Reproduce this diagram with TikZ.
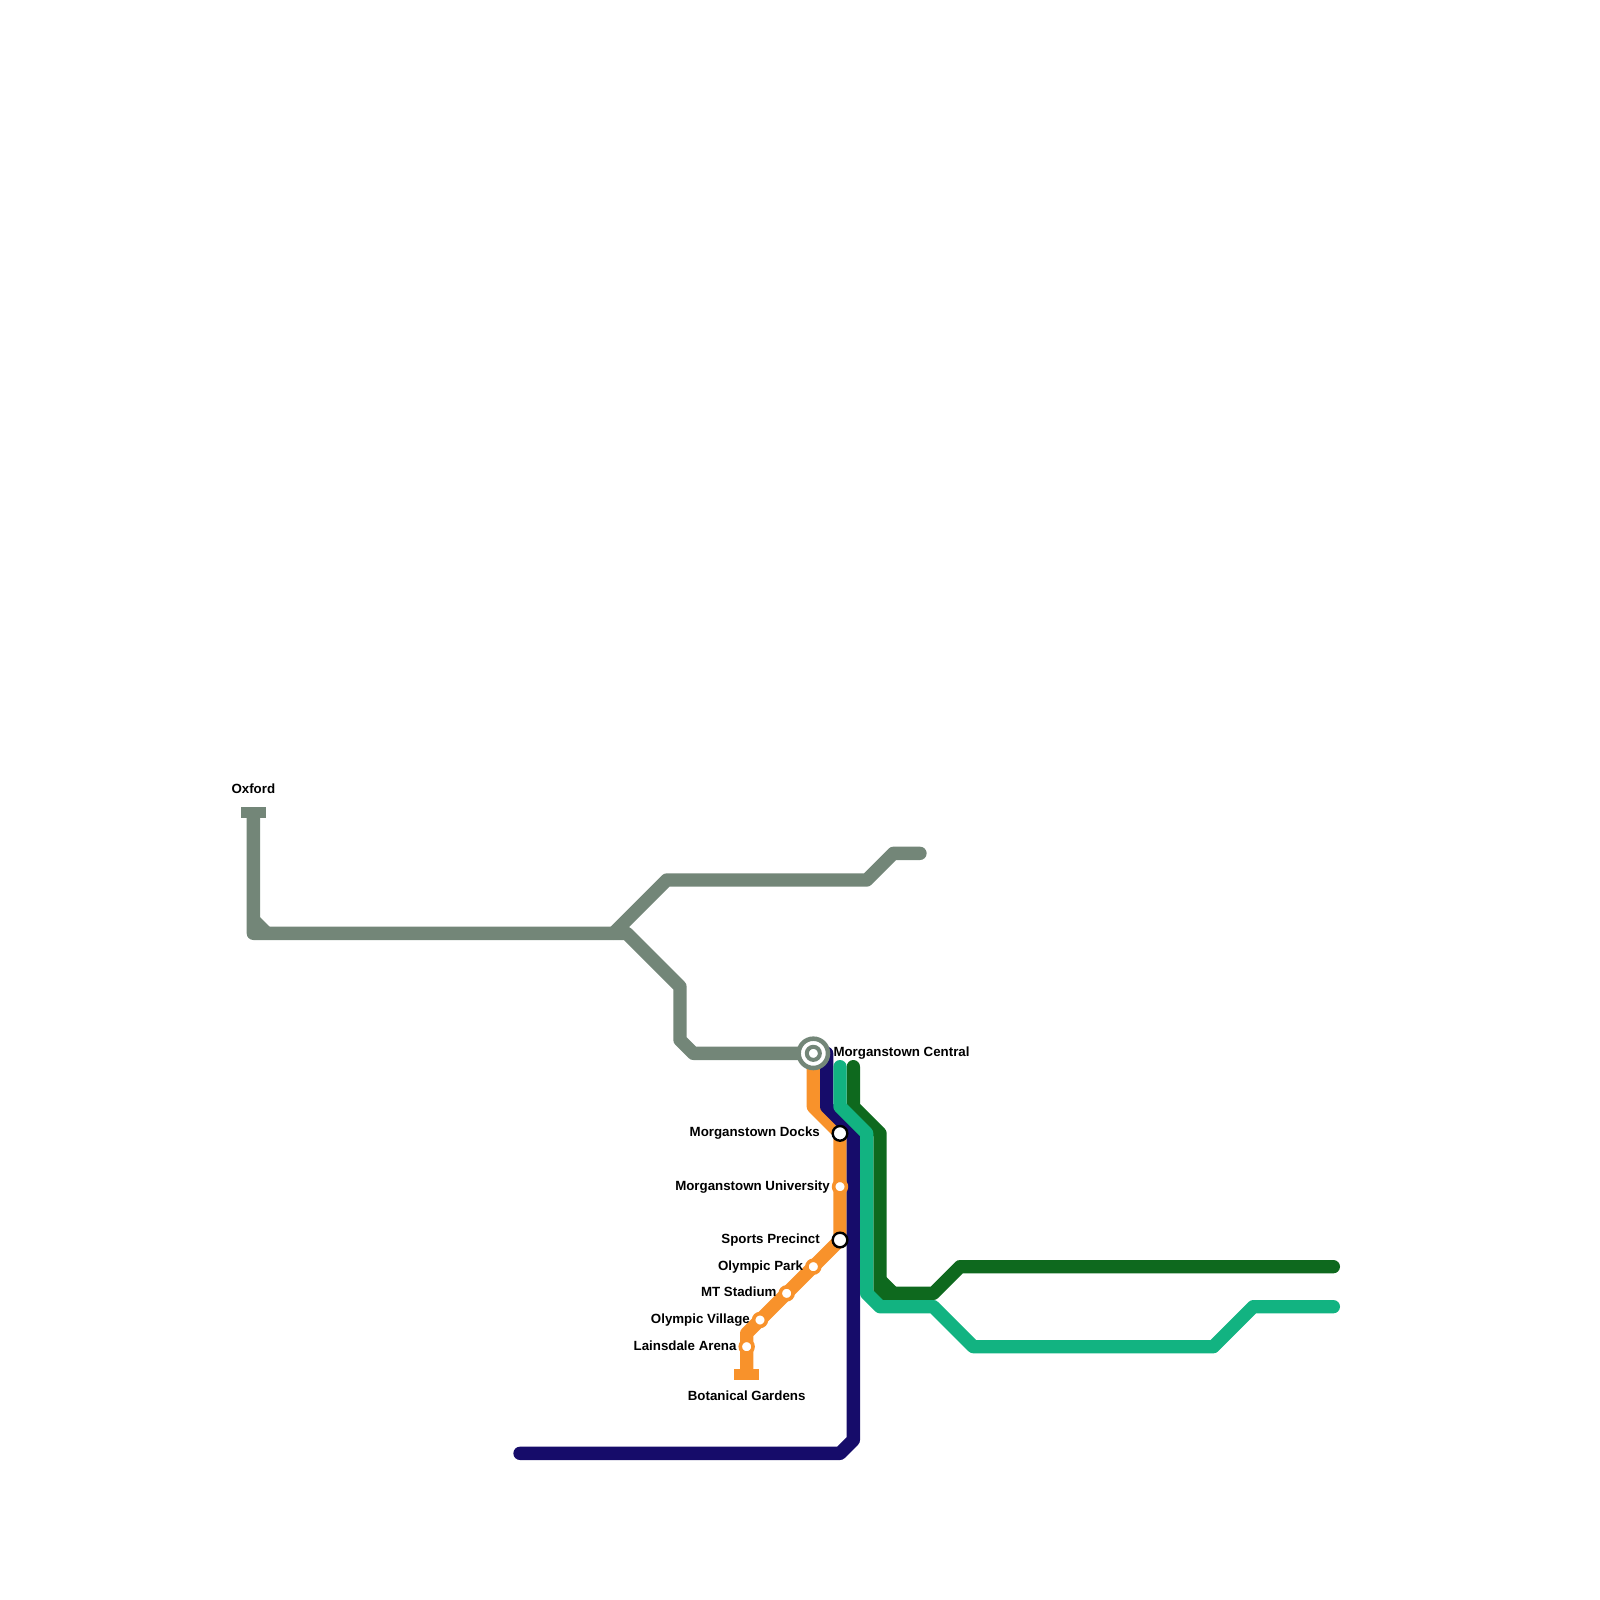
\documentclass[tikz,border=0pt]{standalone}
\usepackage{fontspec}
\setmainfont{Liberation Sans}
\usepackage{tikz}
\usetikzlibrary{positioning}
\definecolor{sagegrey}{HTML}{738678}
\definecolor{lineorange}{HTML}{F8922B}
\definecolor{linenavy}{HTML}{160C6A}
\definecolor{lineteal}{HTML}{12B381}
\definecolor{linegreen}{HTML}{0E691E}
\tikzset{
  route/.style={line width=5mm,line cap=round,line join=round},
  greyroute/.style={route,draw=sagegrey},
  orangeroute/.style={route,draw=lineorange},
  navyroute/.style={route,draw=linenavy},
  tealroute/.style={route,draw=lineteal},
  greenroute/.style={route,draw=linegreen},
  fillet/.style={line width=5mm,line cap=butt},
  terminus/.style={rectangle,draw=none,minimum width=9.2mm,minimum height=4.1mm,inner sep=0pt},
  halt/.style={circle,fill=white,draw=lineorange,line width=1.35mm,minimum size=4.8mm,inner sep=0pt},
  interchange/.style={circle,fill=white,draw=black,line width=.9mm,minimum size=5.5mm,inner sep=0pt},
  hub/.style={circle,fill=white,draw=sagegrey,line width=1.7mm,minimum size=11mm,inner sep=0pt},
  hubcore/.style={circle,fill=white,draw=sagegrey,line width=1.5mm,minimum size=4.9mm,inner sep=0pt},
  stationname/.style={font=\fontsize{14.2}{16}\selectfont\bfseries,inner sep=0pt,text=black}
}
\begin{document}
\begin{tikzpicture}[x=5mm,y=-5mm]
  \useasboundingbox (0,0) rectangle (120,120);
  % stations
  \node[terminus,fill=sagegrey] (oxford) at (19,60.92) {};
  \node[terminus,fill=lineorange] (botanical) at (56,103.08) {};
  \coordinate (central) at (61,79);
  \coordinate (docks) at (63,85);
  \coordinate (university) at (63,89);
  \coordinate (sports) at (63,93);
  \coordinate (park) at (61,95);
  \coordinate (stadium) at (59,97);
  \coordinate (village) at (57,99);
  \coordinate (lainsdale) at (56,101);
  % bends
  \coordinate (gw) at (19,70); \coordinate (gj) at (47,70); \coordinate (gn) at (46,70);
  \coordinate (gend) at (69,64); \coordinate (gs) at (51,74); \coordinate (gt) at (51,78);
  \coordinate (gu) at (52,79); \coordinate (nstart) at (62,79); \coordinate (nend) at (39,109);
  \coordinate (tstart) at (63,80); \coordinate (tend) at (100,98);
  \coordinate (dstart) at (64,80); \coordinate (dend) at (100,95); \coordinate (dsplit) at (70,97);
  % lines
  \draw[greyroute,shorten <=1mm] (oxford.center) -- (gw) -- (gj) -- (gs) -- (gt) -- (gu) -- (central);
  \draw[draw=sagegrey,fillet] (19,69) -- (20,70);
  \draw[greyroute] (gn) -- (50,66) -- (65,66) -- (67,64) -- (gend);
  \draw[orangeroute,shorten >=1mm] (61,80) -- (61,83) -- (docks) -- (sports) -- (56,100) -- (botanical.center);
  \draw[navyroute] (nstart) -- (62,83) -- (64,85) -- (64,108) -- (63,109) -- (nend);
  \draw[greenroute] (dstart) -- (64,83) -- (66,85) -- (66,97) -- (dsplit) -- (72,95) -- (dend);
  \draw[draw=linegreen,fillet] (66,96) -- (67,97);
  \draw[tealroute] (tstart) -- (63,83) -- (65,85) -- (65,97) -- (66,98) -- (70,98) -- (73,101) -- (91,101) -- (94,98) -- (tend);
  % station marks
  \node[hub] (centralmark) at (central) {};
  \node[hubcore] (centralcore) at (central) {};
  \node[interchange] (docksmark) at (docks) {};
  \node[halt] (universitymark) at (university) {};
  \node[interchange] (sportsmark) at (sports) {};
  \node[halt] (parkmark) at (park) {};
  \node[halt] (stadiummark) at (stadium) {};
  \node[halt] (villagemark) at (village) {};
  \node[halt] (lainsdalemark) at (lainsdale) {};
  % names
  \node[stationname,anchor=base] (oxfordname) at (19,59.5) {Oxford};
  \node[stationname,anchor=base west] (centralname) at (62.5,79.25) {Morganstown Central};
  \node[stationname,anchor=base east] (docksname) at (61.5,85.25) {Morganstown Docks};
  \node[stationname,anchor=base east] (universityname) at (62.25,89.25) {Morganstown University};
  \node[stationname,anchor=base east] (sportsname) at (61.5,93.25) {Sports Precinct};
  \node[stationname,anchor=base east] (parkname) at (60.25,95.25) {Olympic Park};
  \node[stationname,anchor=base east] (stadiumname) at (58.25,97.25) {MT Stadium};
  \node[stationname,anchor=base east] (villagename) at (56.25,99.25) {Olympic Village};
  \node[stationname,anchor=base east] (lainsdalename) at (55.25,101.25) {Lainsdale Arena};
  \node[stationname,anchor=base] (botanicalname) at (56,105) {Botanical Gardens};
\end{tikzpicture}
\end{document}
